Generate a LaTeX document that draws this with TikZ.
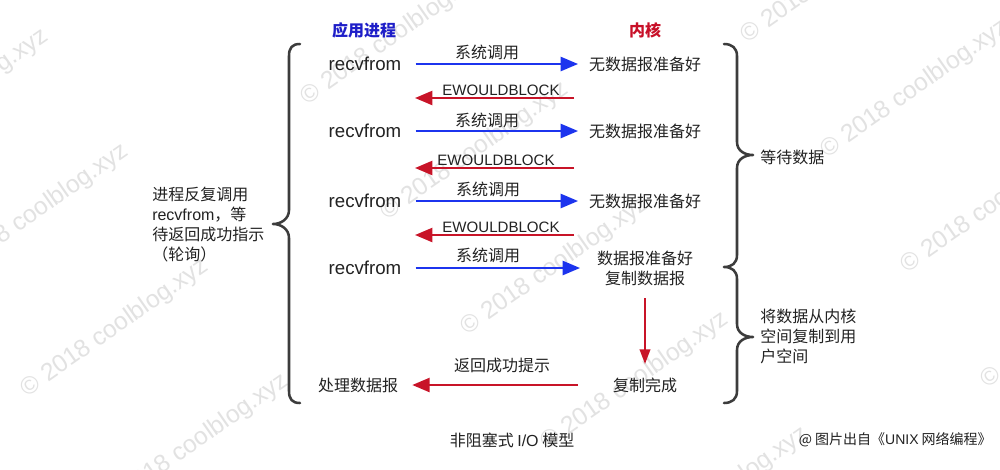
\documentclass[tikz,border=0pt]{standalone}
\usepackage{fontspec}
\setmainfont{Liberation Sans}
\newfontfamily\cjk{Noto Sans CJK SC}
\usetikzlibrary{arrows.meta}
\definecolor{callblue}{RGB}{28,52,238}
\definecolor{retred}{RGB}{200,20,40}
\definecolor{titleblue}{RGB}{30,30,200}
\definecolor{titlered}{RGB}{200,16,40}
\definecolor{ink}{RGB}{34,34,34}
\definecolor{bracegray}{RGB}{60,60,60}
\definecolor{wm}{RGB}{226,226,226}
\begin{document}
\begin{tikzpicture}[x=0.75pt,y=-0.75pt,
  txt/.style={inner sep=0pt, text=ink, font=\cjk\fontsize{12}{15}\selectfont},
  multi/.style={txt, align=left},
  lat/.style={inner sep=0pt, text=ink, font=\rmfamily\fontsize{14}{16}\selectfont},
  errlbl/.style={inner sep=0pt, text=ink, font=\rmfamily\fontsize{11.3}{13}\selectfont},
  title/.style={inner sep=0pt, font=\cjk\bfseries\fontsize{12}{15}\selectfont},
  watermark/.style={inner sep=0pt, text=wm, rotate=35, font=\rmfamily\fontsize{18.5}{20}\selectfont},
  callarrow/.style={draw=callblue, line width=1.7pt, -{Triangle[length=13pt,width=10.5pt]}},
  retarrow/.style={draw=retred, line width=1.7pt, -{Triangle[length=13pt,width=10.5pt]}},
  downarrow/.style={draw=retred, line width=1.4pt, -{Triangle[length=11pt,width=8pt]}},
  bracepath/.style={draw=bracegray, line width=1.9pt, line cap=round, line join=round}
]
\useasboundingbox[fill=white] (0,0) rectangle (1000,469);

% watermarks
\foreach \n/\cx/\cy in {wa/395/36, wb/475/151, wc/555/266, wd/635/381, wk/715/496,
  wl/-45/98, wh/35/213, wi/115/328, wj/195/443,
  wf/835/-26, we/915/89, wg/995/204, wm/1075/319}
  \node[watermark] (\n) at (\cx,\cy) {\textcopyright{} 2018 coolblog.xyz};

% titles
\node[title, text=titleblue] (app) at (364,30) {应用进程};
\node[title, text=titlered] (kern) at (645,30) {内核};

% application side
\node[lat] (r1) at (365,64) {recvfrom};
\node[lat] (r2) at (365,131) {recvfrom};
\node[lat] (r3) at (365,201) {recvfrom};
\node[lat] (r4) at (365,268) {recvfrom};
\node[txt] (p) at (358,385) {处理数据报};

% kernel side
\node[txt] (k1) at (645,64) {无数据报准备好};
\node[txt] (k2) at (645,131) {无数据报准备好};
\node[txt] (k3) at (645,201) {无数据报准备好};
\node[multi, align=center] (k4) at (645,268) {数据报准备好\\复制数据报};
\node[txt] (k5) at (645,385) {复制完成};

% system calls
\draw[callarrow, shorten <=10.5pt, shorten >=8pt] (r1) -- (k1);
\draw[callarrow, shorten <=10.5pt, shorten >=8pt] (r2) -- (k2);
\draw[callarrow, shorten <=10.5pt, shorten >=8pt] (r3) -- (k3);
\draw[callarrow, shorten <=10.5pt, shorten >=12.5pt] (r4) -- (k4);
\node[txt] (c1) at (487,52) {系统调用};
\node[txt] (c2) at (487,120) {系统调用};
\node[txt] (c3) at (488,189) {系统调用};
\node[txt] (c4) at (488,255) {系统调用};

% EWOULDBLOCK returns
\coordinate (e1s) at (574,98);  \coordinate (e1e) at (415,98);
\coordinate (e2s) at (574,168); \coordinate (e2e) at (415,168);
\coordinate (e3s) at (574,235); \coordinate (e3e) at (415,235);
\draw[retarrow] (e1s) -- (e1e);
\draw[retarrow] (e2s) -- (e2e);
\draw[retarrow] (e3s) -- (e3e);
\node[errlbl] (w1) at (501,90) {EWOULDBLOCK};
\node[errlbl] (w2) at (496,160) {EWOULDBLOCK};
\node[errlbl] (w3) at (501,227) {EWOULDBLOCK};

% copy and return
\draw[downarrow, shorten <=9.5pt, shorten >=10pt] (k4.south) -- (k5.north);
\draw[retarrow, shorten <=26pt, shorten >=10.5pt] (k5) -- (p);
\node[txt] (ok) at (502,365) {返回成功提示};

% left brace and text
\draw[bracepath] (300,44) .. controls (292,44) and (289,48) .. (289,56) -- (289,210)
  .. controls (289,219) and (281,224) .. (273,224)
  .. controls (281,224) and (289,229) .. (289,238) -- (289,391)
  .. controls (289,399) and (292,403) .. (300,403);
\node[multi, anchor=west] (lt) at (152,225) {进程反复调用\\{\rmfamily recvfrom}，等\\待返回成功指示\\（轮询）};

% right braces and text
\draw[bracepath] (724,44) .. controls (732,44) and (737,48) .. (737,56) -- (737,142)
  .. controls (737,151) and (745,155) .. (753,155)
  .. controls (745,155) and (737,159) .. (737,168) -- (737,255)
  .. controls (737,263) and (732,267) .. (724,267)
  .. controls (732,267) and (737,271) .. (737,279) -- (737,324)
  .. controls (737,333) and (745,337) .. (753,337)
  .. controls (745,337) and (737,341) .. (737,350) -- (737,391)
  .. controls (737,399) and (732,403) .. (724,403);
\node[txt, anchor=west] (wait) at (760,157) {等待数据};
\node[multi, anchor=west] (copy) at (760,336) {将数据从内核\\空间复制到用\\户空间};

% captions
\node[txt] (cap) at (512,440) {非阻塞式 {\rmfamily I/O} 模型};
\node[inner sep=0pt, text=ink, font=\cjk\fontsize{10.5}{12}\selectfont, anchor=east] (src) at (992,440) {@ 图片出自《{\rmfamily UNIX} 网络编程》};
\end{tikzpicture}
\end{document}
